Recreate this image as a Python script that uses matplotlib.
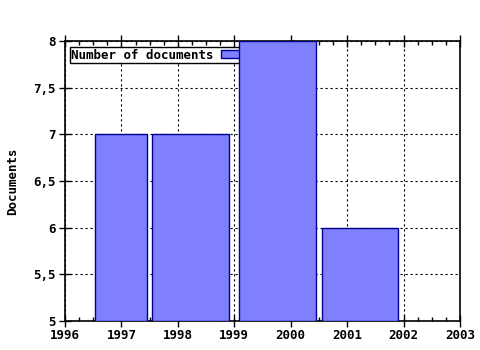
import matplotlib
matplotlib.use("Agg")
import matplotlib.pyplot as plt
from matplotlib.ticker import MultipleLocator

# bar extents in years (left, right) and values
bar_left = [1996.53, 1997.54, 1999.09, 2000.55]
bar_right = [1997.45, 1998.90, 2000.44, 2001.90]
documents = [7, 7, 8, 6]
series_label = 'Number of documents'
y_label = 'Documents'

plt.rcParams['font.family'] = 'DejaVu Sans Mono'
plt.rcParams['font.weight'] = 'bold'
plt.rcParams['axes.labelweight'] = 'bold'
plt.rcParams['font.size'] = 9

fig = plt.figure(figsize=(4.8, 3.5), dpi=100, facecolor='white')
ax = fig.add_axes([65 / 480, 29 / 350, 395 / 480, 280 / 350])

widths = [r - l for l, r in zip(bar_left, bar_right)]
ax.bar(bar_left, [d - 5 for d in documents], width=widths, bottom=5, align='edge',
       color='#8080ff', edgecolor='#000090', linewidth=1, zorder=3, label=series_label)

ax.set_xlim(1996, 2003)
ax.set_ylim(5, 8)
ax.xaxis.set_major_locator(MultipleLocator(1))
ax.xaxis.set_minor_locator(MultipleLocator(0.25))
ax.yaxis.set_major_locator(MultipleLocator(0.5))
ax.set_xticklabels([], minor=True)
ax.xaxis.set_major_formatter(lambda v, p: f'{int(v)}')
ax.yaxis.set_major_formatter(lambda v, p: f'{v:g}'.replace('.', ','))

ax.grid(True, which='major', color='black', linestyle=(0, (2, 2.5)), linewidth=0.8, zorder=1)
ax.set_axisbelow(True)

ax.tick_params(axis='x', which='major', direction='inout', length=8, width=1, top=True, pad=2)
ax.tick_params(axis='x', which='minor', direction='in', length=3, width=1, top=True)
ax.tick_params(axis='y', which='major', direction='inout', length=8, width=1, right=False, pad=3)
for s in ax.spines.values():
    s.set_linewidth(1.2)

ax.set_ylabel(y_label, labelpad=10)

leg = ax.legend(loc='upper left', markerfirst=False, fancybox=False, framealpha=1,
                edgecolor='black', borderpad=0.1, handlelength=3.0, handleheight=0.55,
                handletextpad=0.6, bbox_to_anchor=(0.0, 0.995), borderaxespad=0.4)
leg.get_frame().set_linewidth(1)
leg.set_zorder(2.5)

fig.savefig('out.png', dpi=100, facecolor='white')
